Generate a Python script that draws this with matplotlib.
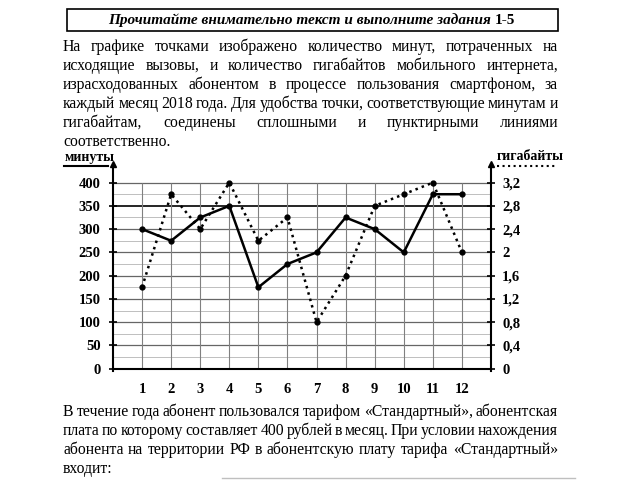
import matplotlib
matplotlib.use('Agg')
import matplotlib.pyplot as plt
from matplotlib.lines import Line2D
from matplotlib.patches import Rectangle

months = [1, 2, 3, 4, 5, 6, 7, 8, 9, 10, 11, 12]
minutes = [300, 275, 325, 350, 175, 225, 250, 325, 300, 250, 375, 375]
gigabytes = [1.4, 3.0, 2.4, 3.2, 2.2, 2.6, 0.8, 1.6, 2.8, 3.0, 3.2, 2.0]
min_ticks = [0, 50, 100, 150, 200, 250, 300, 350, 400]
gb_ticks = [0, 0.4, 0.8, 1.2, 1.6, 2, 2.4, 2.8, 3.2]
gb_labels = ['0', '0,4', '0,8', '1,2', '1,6', '2', '2,4', '2,8', '3,2']

title_main = 'Прочитайте внимательно текст и выполните задания '
title_num = '1-5'
top_lines = [
    'На графике точками изображено количество минут, потраченных на',
    'исходящие вызовы, и количество гигабайтов мобильного интернета,',
    'израсходованных абонентом в процессе пользования смартфоном, за',
    'каждый месяц 2018 года. Для удобства точки, соответствующие минутам и',
    'гигабайтам, соединены сплошными и пунктирными линиями',
    'соответственно.',
]
bottom_lines = [
    'В течение года абонент пользовался тарифом «Стандартный», абонентская',
    'плата по которому составляет 400 рублей в месяц. При условии нахождения',
    'абонента на территории РФ в абонентскую плату тарифа «Стандартный»',
    'входит:',
]

W, H = 640, 480
SERIF = 'Liberation Serif'
FS = 11.3

fig = plt.figure(figsize=(6.4, 4.8), dpi=100)
renderer = fig.canvas.get_renderer()


def fx(x):
    return x / W


def fy(y):
    return 1 - y / H


def justified(lines, y0, step, x0=63, x1=558):
    for i, line in enumerate(lines):
        y = y0 + i * step + 4  # baseline
        words = line.split(' ')
        last = i == len(lines) - 1
        if last or len(words) == 1:
            fig.text(fx(x0), fy(y), line, fontsize=FS, family=SERIF, va='baseline')
            continue
        arts = [fig.text(0, fy(y), w, fontsize=FS, family=SERIF, va='baseline') for w in words]
        widths = [a.get_window_extent(renderer).width for a in arts]
        gap = (x1 - x0 - sum(widths)) / (len(words) - 1)
        x = x0
        for a, wd in zip(arts, widths):
            a.set_x(fx(x))
            x += wd + gap


# title box
fig.add_artist(Rectangle((fx(67), fy(31)), fx(558) - fx(67), fy(9) - fy(31),
                         transform=fig.transFigure, fill=False, lw=1.2, ec='black'))
t1 = fig.text(0, fy(24), title_main, fontsize=11, family=SERIF, style='italic',
              weight='bold', va='baseline')
t2 = fig.text(0, fy(24), title_num, fontsize=11, family=SERIF, weight='bold', va='baseline')
w1 = t1.get_window_extent(renderer).width
w2 = t2.get_window_extent(renderer).width
start = 312 - (w1 + w2) / 2
t1.set_x(fx(start))
t2.set_x(fx(start + w1))

justified(top_lines, 47, 19)
justified(bottom_lines, 412, 19)
fig.add_artist(Line2D([fx(222), fx(575)], [fy(478), fy(478)], color='0.75', lw=1))

# chart
ax = fig.add_axes([fx(113), fy(371), fx(491) - fx(113), fy(164) - fy(371)])
ax.set_xlim(0, 13)
ax.set_ylim(-5, 440)
ax2 = ax.twinx()
ax2.set_ylim(-5 / 125, 440 / 125)

for v in range(25, 401, 25):
    if v == 350:
        ax.axhline(v, color='black', lw=1.2, zorder=1)
    elif v % 50 == 0:
        ax.axhline(v, color='0.4', lw=0.9, zorder=1)
    else:
        ax.axhline(v, color='0.75', lw=0.7, zorder=1)
ax.vlines(months, 0, 400, color='0.5', lw=0.8, zorder=1)

ax.plot(months, minutes, '-o', color='black', lw=1.8, ms=3.5, zorder=3)
ax2.plot(months, gigabytes, ':o', color='black', lw=1.8, ms=3.5, zorder=3)

for a in (ax, ax2):
    a.spines['top'].set_visible(False)
    a.spines['bottom'].set_position(('data', 0))
    a.spines['left'].set_linewidth(1.5)
    a.spines['right'].set_linewidth(1.5)
    a.spines['bottom'].set_linewidth(1.5)
ax2.spines['bottom'].set_visible(False)
ax2.spines['left'].set_visible(False)
ax.spines['right'].set_visible(False)

ax.set_xticks(months)
ax.set_xticklabels([str(m) for m in months], fontsize=10.5, family=SERIF, weight='bold')
ax.tick_params(axis='x', length=0, pad=10)
ax.set_yticks(min_ticks)
ax.set_yticklabels([str(v) for v in min_ticks], fontsize=10.5, family=SERIF, weight='bold')
ax.tick_params(axis='y', direction='inout', length=6, width=1.2, pad=6)
ax2.set_yticks(gb_ticks)
ax2.set_yticklabels(gb_labels, fontsize=10.5, family=SERIF, weight='bold')
ax2.tick_params(axis='y', direction='inout', length=6, width=1.2, pad=5)

ax.plot([0], [1], marker='^', color='black', ms=5, transform=ax.transAxes, clip_on=False)
ax.plot([1], [1], marker='^', color='black', ms=5, transform=ax.transAxes, clip_on=False)

# axis titles
fig.text(fx(65), fy(157), 'минуты', fontsize=10, family=SERIF, weight='bold', va='center')
fig.add_artist(Line2D([fx(64), fx(108)], [fy(166), fy(166)], color='black', lw=1.5))
fig.text(fx(497), fy(157), 'гигабайты', fontsize=10, family=SERIF, weight='bold', va='center')
fig.add_artist(Line2D([fx(497), fx(557)], [fy(166), fy(166)], color='black', lw=1.5, ls=':'))

fig.savefig('out.png', dpi=100)
